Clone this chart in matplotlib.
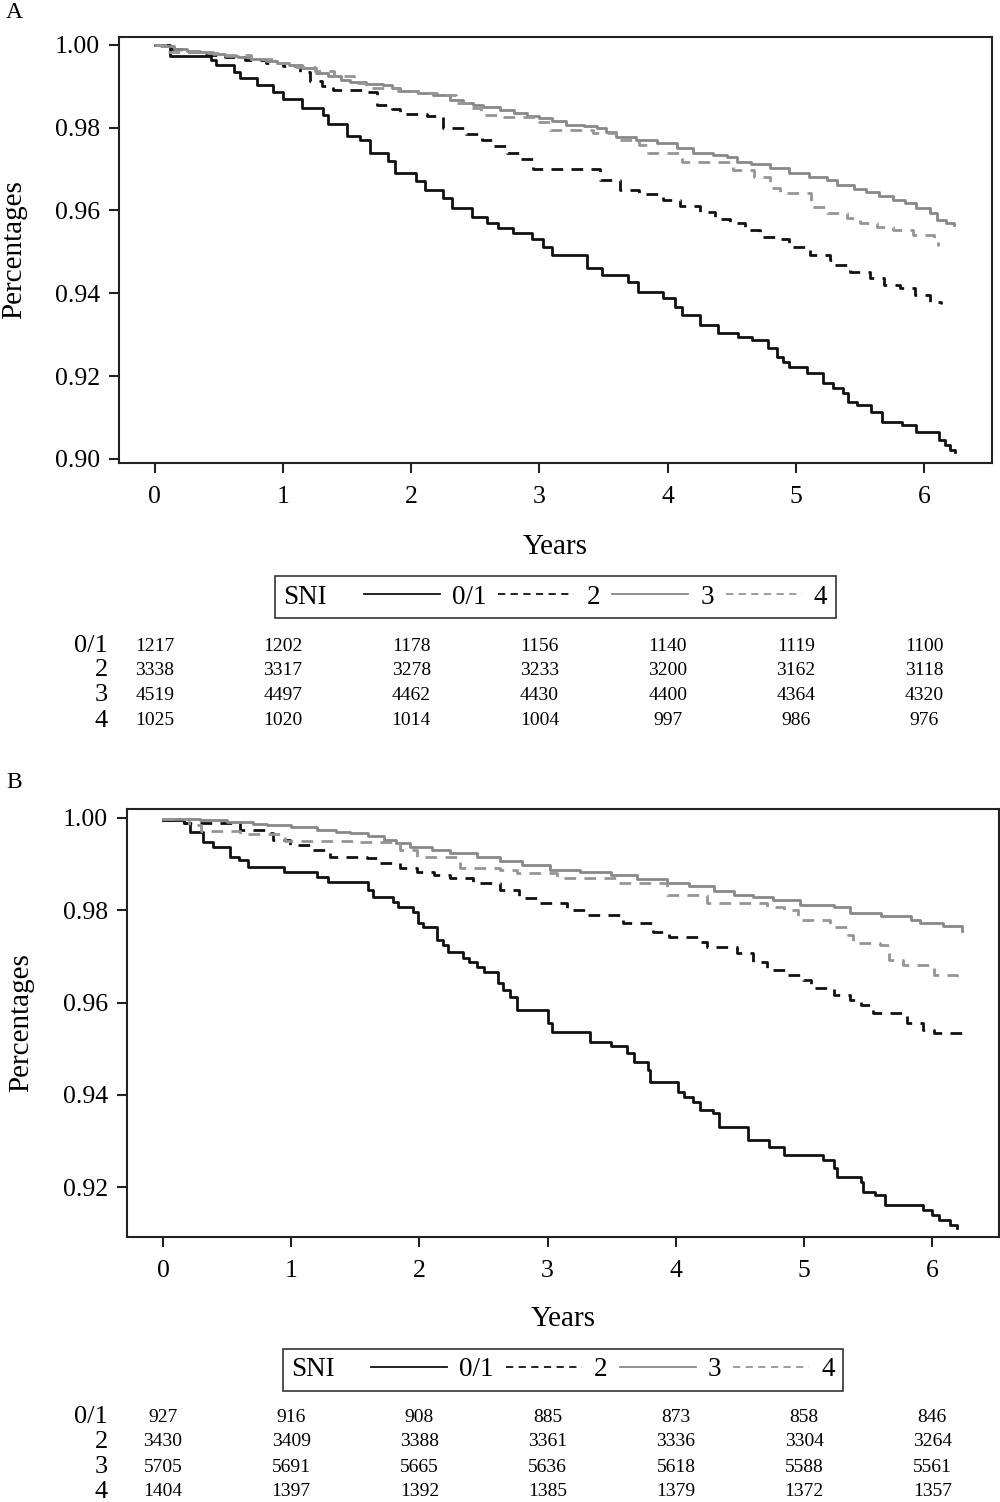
import matplotlib
matplotlib.use("Agg")
import matplotlib.pyplot as plt
from matplotlib.lines import Line2D
from matplotlib.offsetbox import HPacker
from matplotlib.transforms import blended_transform_factory

plt.rcParams['font.family'] = ['Liberation Serif', 'DejaVu Serif']

# ---------------- data: panel A ----------------
t01_a = [0, 0.12, 0.44, 0.48, 0.62, 0.66, 0.80, 0.92, 1.00, 1.15, 1.31, 1.35, 1.50, 1.60, 1.68, 1.82, 1.87, 2.04, 2.11,
         2.25, 2.32, 2.47, 2.59, 2.68, 2.79, 2.94, 3.03, 3.10, 3.37, 3.49, 3.69, 3.77, 3.96, 4.06, 4.11, 4.25, 4.39, 4.55,
         4.66, 4.78, 4.85, 4.90, 4.95, 5.09, 5.21, 5.29, 5.37, 5.41, 5.48, 5.59, 5.67, 5.83, 5.94, 6.12, 6.16, 6.20, 6.24]
s01_a = [1.0, 0.9974, 0.9964, 0.9952, 0.9935, 0.9920, 0.9903, 0.9887, 0.9870, 0.9848, 0.9830, 0.9810, 0.9780, 0.9770,
         0.9740, 0.9720, 0.9690, 0.9670, 0.9650, 0.9630, 0.9606, 0.9585, 0.9570, 0.9558, 0.9546, 0.9530, 0.9512, 0.9493,
         0.9460, 0.9444, 0.9428, 0.9403, 0.9389, 0.9367, 0.9348, 0.9324, 0.9304, 0.9295, 0.9287, 0.9268, 0.9246, 0.9234,
         0.9222, 0.9207, 0.9183, 0.9171, 0.9159, 0.9138, 0.9130, 0.9114, 0.9090, 0.9082, 0.9065, 0.9046, 0.9034, 0.9022,
         0.9017]

t2_a = [0, 0.08, 0.2, 0.35, 0.55, 0.7, 0.87, 1.0, 1.13, 1.21, 1.3, 1.39, 1.65, 1.73, 1.85, 1.91, 2.12, 2.25, 2.43, 2.55,
        2.64, 2.75, 2.85, 2.95, 3.47, 3.63, 3.78, 3.96, 4.10, 4.25, 4.37, 4.49, 4.60, 4.72, 4.84, 4.95, 5.11, 5.27, 5.30,
        5.42, 5.58, 5.69, 5.81, 5.93, 6.05, 6.13]
s2_a = [1.0, 0.9990, 0.9983, 0.9976, 0.9970, 0.9963, 0.9956, 0.9948, 0.9935, 0.9912, 0.9900, 0.9890, 0.9885, 0.9855,
        0.9845, 0.9832, 0.9828, 0.9800, 0.9785, 0.9770, 0.9755, 0.9740, 0.9725, 0.9700, 0.9674, 0.9650, 0.9640, 0.9626,
        0.9610, 0.9597, 0.9580, 0.9570, 0.9553, 0.9536, 0.9530, 0.9512, 0.9493, 0.9480, 0.9469, 0.9452, 0.9437, 0.9420,
        0.9413, 0.9396, 0.9380, 0.9374]

t3_a = [0, 0.05, 0.15, 0.25, 0.35, 0.45, 0.55, 0.65, 0.75, 0.87, 0.95, 1.05, 1.15, 1.26, 1.35, 1.45, 1.52, 1.65, 1.78,
        1.85, 1.91, 2.05, 2.17, 2.30, 2.40, 2.48, 2.56, 2.69, 2.80, 2.90, 3.00, 3.10, 3.21, 3.35, 3.45, 3.52, 3.60, 3.75,
        3.92, 4.07, 4.20, 4.35, 4.46, 4.54, 4.65, 4.80, 4.95, 5.10, 5.24, 5.32, 5.45, 5.55, 5.65, 5.76, 5.85, 5.94, 6.05,
        6.10, 6.17, 6.23]
s3_a = [1.0, 0.9998, 0.9990, 0.9986, 0.9983, 0.9979, 0.9974, 0.9970, 0.9965, 0.9960, 0.9956, 0.9952, 0.9945, 0.9932,
        0.9925, 0.9915, 0.9910, 0.9906, 0.9903, 0.9895, 0.9889, 0.9884, 0.9879, 0.9867, 0.9860, 0.9855, 0.9850, 0.9843,
        0.9836, 0.9829, 0.9823, 0.9815, 0.9807, 0.9803, 0.9800, 0.9790, 0.9778, 0.9770, 0.9763, 0.9751, 0.9739, 0.9735,
        0.9730, 0.9718, 0.9712, 0.9703, 0.9690, 0.9682, 0.9674, 0.9662, 0.9653, 0.9645, 0.9636, 0.9626, 0.9617, 0.9606,
        0.9594, 0.9577, 0.9570, 0.9565]

t4_a = [0, 0.1, 0.35, 0.55, 0.75, 0.95, 1.1, 1.25, 1.4, 1.55, 1.65, 1.9, 2.05, 2.2, 2.35, 2.45, 2.54, 2.69, 3.0, 3.08,
        3.42, 3.60, 3.78, 3.85, 4.11, 4.49, 4.51, 4.67, 4.80, 4.88, 5.12, 5.24, 5.40, 5.50, 5.63, 5.76, 5.91, 6.08, 6.11]
s4_a = [1.0, 0.9982, 0.9980, 0.9975, 0.9965, 0.9955, 0.9947, 0.9938, 0.9925, 0.9908, 0.9895, 0.9888, 0.9884, 0.9878,
        0.9860, 0.9848, 0.9830, 0.9826, 0.9814, 0.9795, 0.9787, 0.9770, 0.9758, 0.9739, 0.9718, 0.9715, 0.9698, 0.9681,
        0.9654, 0.9642, 0.9609, 0.9594, 0.9582, 0.9570, 0.9561, 0.9553, 0.9541, 0.9529, 0.9514]

# ---------------- data: panel B ----------------
t01_b = [0, 0.16, 0.21, 0.31, 0.39, 0.52, 0.59, 0.66, 0.94, 1.20, 1.29, 1.60, 1.64, 1.79, 1.83, 1.95, 1.99, 2.03, 2.14,
         2.18, 2.22, 2.34, 2.39, 2.45, 2.50, 2.61, 2.65, 2.71, 2.76, 3.00, 3.03, 3.33, 3.49, 3.62, 3.67, 3.78, 3.80, 4.02,
         4.06, 4.13, 4.19, 4.29, 4.34, 4.56, 4.73, 4.84, 5.15, 5.23, 5.26, 5.44, 5.46, 5.55, 5.63, 5.93, 6.00, 6.05, 6.14,
         6.19]
s01_b = [0.9995, 0.9990, 0.9970, 0.9948, 0.9937, 0.9916, 0.9910, 0.9894, 0.9883, 0.9872, 0.9861, 0.9844, 0.9829, 0.9818,
         0.9807, 0.9796, 0.9772, 0.9764, 0.9736, 0.9725, 0.9710, 0.9697, 0.9688, 0.9677, 0.9666, 0.9642, 0.9627, 0.9612,
         0.9584, 0.9556, 0.9537, 0.9515, 0.9506, 0.9491, 0.9471, 0.9454, 0.9428, 0.9406, 0.9396, 0.9385, 0.9367, 0.9361,
         0.9330, 0.9302, 0.9287, 0.9270, 0.9259, 0.9242, 0.9222, 0.9211, 0.9190, 0.9183, 0.9161, 0.9150, 0.9140, 0.9129,
         0.9118, 0.9112]

t2_b = [0, 0.16, 0.6, 0.81, 0.86, 0.99, 1.15, 1.30, 1.59, 1.69, 1.85, 1.98, 2.11, 2.24, 2.42, 2.63, 2.78, 2.94, 3.15,
        3.31, 3.59, 3.82, 3.95, 4.19, 4.24, 4.48, 4.60, 4.71, 4.87, 4.99, 5.05, 5.23, 5.36, 5.44, 5.54, 5.80, 5.93, 6.01,
        6.24]
s2_b = [0.9995, 0.9990, 0.9974, 0.9967, 0.9952, 0.9942, 0.9931, 0.9916, 0.9913, 0.9902, 0.9892, 0.9883, 0.9876, 0.9870,
        0.9859, 0.9844, 0.9827, 0.9816, 0.9800, 0.9790, 0.9772, 0.9753, 0.9742, 0.9731, 0.9720, 0.9707, 0.9688, 0.9671,
        0.9660, 0.9649, 0.9632, 0.9617, 0.9606, 0.9595, 0.9578, 0.9556, 0.9540, 0.9534, 0.9526]

t3_b = [0, 0.29, 0.5, 0.7, 0.81, 1.0, 1.2, 1.35, 1.46, 1.6, 1.72, 1.82, 1.93, 2.1, 2.24, 2.45, 2.63, 2.8, 3.02, 3.25,
        3.49, 3.7, 3.93, 4.1, 4.3, 4.45, 4.6, 4.76, 4.97, 5.23, 5.36, 5.6, 5.83, 5.90, 6.08, 6.23]
s3_b = [0.9998, 0.9996, 0.9992, 0.9988, 0.9985, 0.9980, 0.9974, 0.9970, 0.9967, 0.9960, 0.9952, 0.9945, 0.9937, 0.9930,
        0.9924, 0.9915, 0.9907, 0.9898, 0.9887, 0.9882, 0.9876, 0.9868, 0.9859, 0.9852, 0.9842, 0.9833, 0.9828, 0.9822,
        0.9811, 0.9807, 0.9794, 0.9787, 0.9779, 0.9772, 0.9766, 0.9755]

t4_b = [0, 0.2, 0.3, 0.6, 0.95, 1.5, 1.85, 1.98, 2.32, 2.63, 2.76, 3.07, 3.54, 3.93, 4.24, 4.71, 4.84, 4.95, 5.20, 5.34,
        5.38, 5.59, 5.66, 5.77, 6.01, 6.19, 6.20]
s4_b = [0.9998, 0.9985, 0.9972, 0.9965, 0.9950, 0.9948, 0.9931, 0.9916, 0.9892, 0.9887, 0.9880, 0.9870, 0.9859, 0.9833,
        0.9816, 0.9807, 0.9800, 0.9779, 0.9764, 0.9747, 0.9729, 0.9725, 0.9692, 0.9681, 0.9660, 0.9649, 0.9645]

# ---------------- numbers at risk ----------------
groups = ["0/1", "2", "3", "4"]
years = [0, 1, 2, 3, 4, 5, 6]
n01_a = [1217, 1202, 1178, 1156, 1140, 1119, 1100]
n2_a = [3338, 3317, 3278, 3233, 3200, 3162, 3118]
n3_a = [4519, 4497, 4462, 4430, 4400, 4364, 4320]
n4_a = [1025, 1020, 1014, 1004, 997, 986, 976]
n01_b = [927, 916, 908, 885, 873, 858, 846]
n2_b = [3430, 3409, 3388, 3361, 3336, 3304, 3264]
n3_b = [5705, 5691, 5665, 5636, 5618, 5588, 5561]
n4_b = [1404, 1397, 1392, 1385, 1379, 1372, 1357]

colors = ["#111111", "#111111", "#888888", "#959595"]
styles = ["-", "--", "-", "--"]
DASH = (4.2, 3.0)
LW = 2.0

fig = plt.figure(figsize=(10, 15.02), dpi=100)
H = 1502.0


def km_panel(rect, curves, ylim, xlim, yticks, xlabel_y, ylabel_x, legend_y, table, table_y, letter, letter_y):
    ax = fig.add_axes(rect)
    for (t, s), c, ls in zip(curves, colors, styles):
        line, = ax.step(t, s, where="post", color=c, lw=LW, ls=ls)
        if ls == "--":
            line.set_dashes(DASH)
    ax.set_xlim(*xlim)
    ax.set_ylim(*ylim)
    ax.set_xticks(years)
    ax.set_yticks(yticks)
    ax.set_yticklabels(["%.2f" % v for v in yticks])
    for sp in ax.spines.values():
        sp.set_linewidth(1.5)
        sp.set_color("#222222")
    ax.tick_params(direction="out", length=7.5, width=1.5, labelsize=18.5, color="#222222")
    ax.tick_params(axis="x", pad=9)
    ax.tick_params(axis="y", pad=6)
    ax.tick_params(top=False, right=False)
    ax.set_xlabel("Years", fontsize=21)
    ax.set_ylabel("Percentages", fontsize=21)
    ax.xaxis.set_label_coords(0.5, xlabel_y)
    ax.yaxis.set_label_coords(ylabel_x, 0.5)

    # legend with title placed on the left
    handles = []
    for c, ls in zip(colors, styles):
        h = Line2D([], [], color=c, lw=1.3, ls=ls)
        if ls == "--":
            h.set_dashes((4, 3))
        handles.append(h)
    cx = (rect[0] + rect[0] + rect[2]) / 2
    leg = ax.legend(handles, groups, ncol=4, title="SNI", loc="center",
                    bbox_to_anchor=(cx, 1 - legend_y / H), bbox_transform=fig.transFigure,
                    fontsize=19.5, title_fontsize=19.5, handlelength=2.8, handletextpad=0.45,
                    columnspacing=0.45, borderpad=0.12, fancybox=False, framealpha=1,
                    edgecolor="#333333")
    leg.get_frame().set_linewidth(1.2)
    fs = leg._fontsize
    box = HPacker(pad=0.3 * fs, sep=1.35 * fs, align="center",
                  children=[leg._legend_title_box, leg._legend_handle_box])
    box.set_figure(fig)
    box.axes = ax
    leg._legend_box = box
    box.set_offset(leg._findoffset)

    # numbers at risk
    trans = blended_transform_factory(ax.transData, fig.transFigure)
    for row, (g, vals) in enumerate(zip(groups, table)):
        yy = 1 - table_y[row] / H
        fig.text(0.108, yy, g, ha="right", va="center", fontsize=19)
        for x, v in zip(years, vals):
            ax.text(x, yy, str(v), transform=trans, ha="center", va="center", fontsize=14, clip_on=False)

    fig.text(0.006, 1 - letter_y / H, letter, ha="left", va="center", fontsize=17)
    return ax


# Panel A
km_panel([0.119, 1 - 463 / H, 0.873, 426 / H],
         [(t01_a, s01_a), (t2_a, s2_a), (t3_a, s3_a), (t4_a, s4_a)],
         (0.899, 1.0019), (-0.28, 6.53), [0.90, 0.92, 0.94, 0.96, 0.98, 1.00],
         -0.166, -0.105, 597,
         [n01_a, n2_a, n3_a, n4_a], [646, 670, 695, 721], "A", 12)

# Panel B
km_panel([0.127, 1 - 1237 / H, 0.872, 428 / H],
         [(t01_b, s01_b), (t2_b, s2_b), (t3_b, s3_b), (t4_b, s4_b)],
         (0.9092, 1.00195), (-0.281, 6.52), [0.92, 0.94, 0.96, 0.98, 1.00],
         -0.161, -0.106, 1370,
         [n01_b, n2_b, n3_b, n4_b], [1417, 1442, 1467, 1492], "B", 783)

fig.savefig("out.png", dpi=100)
